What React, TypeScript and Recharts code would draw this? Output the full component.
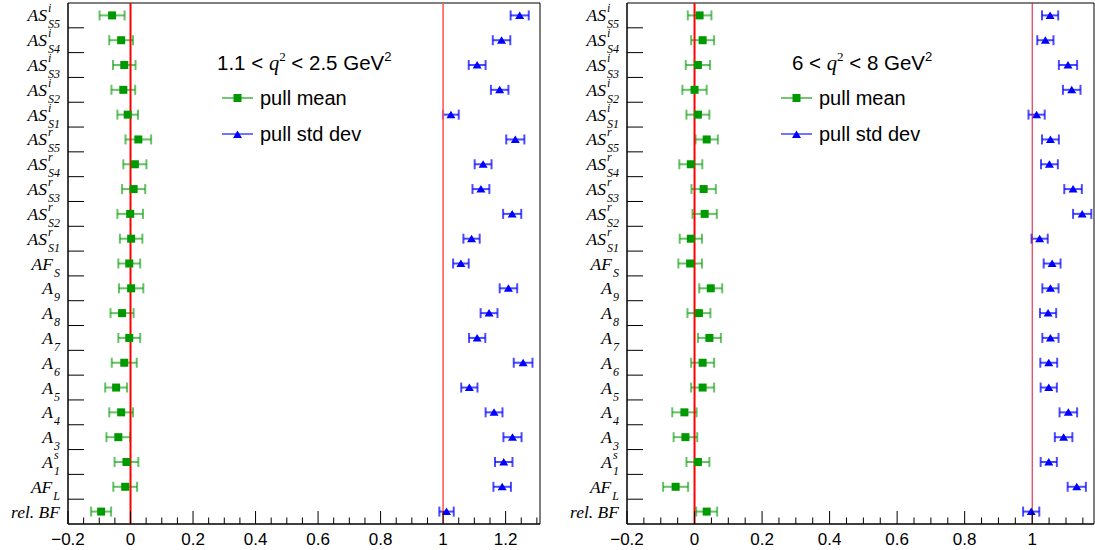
import {
  ScatterChart,
  Scatter,
  XAxis,
  YAxis,
  ErrorBar,
  ReferenceLine,
  ReferenceArea,
  Legend,
} from "recharts";

// row labels, top to bottom
const ROWS = [
  { main: "AS", sup: "i", sub: "S5" },
  { main: "AS", sup: "i", sub: "S4" },
  { main: "AS", sup: "i", sub: "S3" },
  { main: "AS", sup: "i", sub: "S2" },
  { main: "AS", sup: "i", sub: "S1" },
  { main: "AS", sup: "r", sub: "S5" },
  { main: "AS", sup: "r", sub: "S4" },
  { main: "AS", sup: "r", sub: "S3" },
  { main: "AS", sup: "r", sub: "S2" },
  { main: "AS", sup: "r", sub: "S1" },
  { main: "AF", sup: "", sub: "S" },
  { main: "A", sup: "", sub: "9" },
  { main: "A", sup: "", sub: "8" },
  { main: "A", sup: "", sub: "7" },
  { main: "A", sup: "", sub: "6" },
  { main: "A", sup: "", sub: "5" },
  { main: "A", sup: "", sub: "4" },
  { main: "A", sup: "", sub: "3" },
  { main: "A", sup: "s", sub: "1" },
  { main: "AF", sup: "", sub: "L" },
  { main: "rel. BF", sup: "", sub: "" },
];

// 1.1 < q2 < 2.5
const LOW_MEAN = [-0.059, -0.03, -0.02, -0.023, -0.009, 0.025, 0.014, 0.01, -0.001, 0.002, -0.004, 0.002, -0.027, -0.004, -0.02, -0.046, -0.03, -0.039, -0.013, -0.017, -0.094];
const LOW_MEAN_ERR = [0.04, 0.038, 0.036, 0.038, 0.033, 0.041, 0.037, 0.037, 0.041, 0.036, 0.035, 0.039, 0.037, 0.035, 0.04, 0.035, 0.038, 0.038, 0.038, 0.038, 0.032];
const LOW_STD = [1.245, 1.187, 1.109, 1.181, 1.025, 1.231, 1.128, 1.121, 1.221, 1.091, 1.057, 1.209, 1.147, 1.109, 1.256, 1.084, 1.163, 1.222, 1.194, 1.189, 1.011];
const LOW_STD_ERR = [0.029, 0.028, 0.027, 0.028, 0.025, 0.029, 0.027, 0.027, 0.029, 0.026, 0.025, 0.028, 0.027, 0.026, 0.03, 0.026, 0.027, 0.029, 0.028, 0.028, 0.023];

// 6 < q2 < 8
const HIGH_MEAN = [0.015, 0.024, 0.01, 0.0, 0.01, 0.036, -0.011, 0.027, 0.03, -0.011, -0.013, 0.048, 0.013, 0.044, 0.024, 0.024, -0.03, -0.027, 0.01, -0.056, 0.036];
const HIGH_MEAN_ERR = [0.035, 0.034, 0.036, 0.036, 0.034, 0.033, 0.034, 0.036, 0.036, 0.033, 0.035, 0.034, 0.034, 0.034, 0.034, 0.034, 0.036, 0.035, 0.034, 0.037, 0.031];
const HIGH_STD = [1.053, 1.039, 1.106, 1.117, 1.013, 1.054, 1.051, 1.121, 1.148, 1.022, 1.059, 1.054, 1.047, 1.054, 1.049, 1.049, 1.107, 1.093, 1.049, 1.132, 0.997];
const HIGH_STD_ERR = [0.024, 0.024, 0.027, 0.026, 0.024, 0.025, 0.025, 0.026, 0.027, 0.024, 0.025, 0.024, 0.024, 0.024, 0.025, 0.024, 0.026, 0.026, 0.024, 0.027, 0.024];

const X_LABELS = [-0.2, 0, 0.2, 0.4, 0.6, 0.8, 1, 1.2];
const ROW_TICKS = ROWS.map((_, i) => i + 0.5);

const H = 550;
const TOP = 3;
const XAXIS_H = 26;
const PLOT_H = H - TOP - XAXIS_H;
const ROW_H = PLOT_H / ROWS.length;

const C = {
  green: "#009900",
  blue: "#0000ff",
  red: "#ff0000",
};
const SANS = "'Liberation Sans', Arial, sans-serif";
const SERIF = "'Liberation Serif', 'Times New Roman', serif";

const supWidth: Record<string, number> = { i: 3.4, r: 4.7, s: 4.7 };

const rows = (vals: number[], errs: number[]) =>
  vals.map((v, i) => ({ row: i + 0.5, x: v, err: errs[i] }));

function minorTicks(max: number) {
  const out: number[] = [];
  for (let k = -4; k * 0.05 <= max + 1e-9; k++) out.push(Math.round(k * 5) / 100);
  return out;
}

function RowTick(props: any) {
  const { x, y, payload } = props;
  const idx = Math.round(payload.value - 0.5);
  const lab = ROWS[idx];
  return (
    <g>
      {idx > 0 && (
        <line x1={x} x2={x + 16} y1={y - ROW_H / 2} y2={y - ROW_H / 2} stroke="#000" strokeWidth={1} />
      )}
      <text x={x - 8} y={y + 6} textAnchor="end" fontFamily={SERIF} fontStyle="italic" fontSize={17.5} fill="#000">
        <tspan>{lab.main}</tspan>
        {lab.sup && (
          <tspan fontSize={12} dx={1} dy={-9}>
            {lab.sup}
          </tspan>
        )}
        {lab.sub && (
          <tspan fontSize={12} dx={lab.sup ? -supWidth[lab.sup] : 1} dy={lab.sup ? 16 : 7}>
            {lab.sub}
          </tspan>
        )}
      </text>
    </g>
  );
}

function XTick(props: any) {
  const { x, y, payload } = props;
  const v = payload.value as number;
  const major = X_LABELS.some((l) => Math.abs(l - v) < 1e-6);
  const txt = v < 0 ? "\u2212" + Math.abs(v) : String(v);
  return (
    <g>
      <line x1={x} x2={x} y1={y} y2={y - (major ? 13 : 6.5)} stroke="#000" strokeWidth={1} />
      {major && (
        <text x={x} y={y + 21} textAnchor="middle" fontFamily={SANS} fontSize={17} fill="#000">
          {txt}
        </text>
      )}
    </g>
  );
}

const squareShape = (p: any) => (
  <rect x={p.cx - 4} y={p.cy - 4} width={8} height={8} fill={C.green} />
);
const triangleShape = (p: any) => (
  <polygon
    points={`${p.cx - 4.5},${p.cy + 3.5} ${p.cx + 4.5},${p.cy + 3.5} ${p.cx},${p.cy - 4}`}
    fill={C.blue}
  />
);

function LegendBox({ lo, hi, titleDx }: { lo: string; hi: string; titleDx: number }) {
  const entry = (top: number, color: string, label: string, marker: "sq" | "tri") => (
    <div style={{ position: "absolute", left: 0, top, display: "flex", alignItems: "center", whiteSpace: "nowrap" }}>
      <svg width={31} height={12} style={{ display: "block" }}>
        <line x1={0} x2={31} y1={6} y2={6} stroke={color} strokeOpacity={0.55} strokeWidth={2} />
        {marker === "sq" ? (
          <rect x={11.5} y={2} width={8} height={8} fill={color} />
        ) : (
          <polygon points="11,10 20,10 15.5,2.5" fill={color} />
        )}
      </svg>
      <span style={{ marginLeft: 7, fontFamily: SANS, fontSize: 20, lineHeight: "24px", color: "#000" }}>{label}</span>
    </div>
  );
  return (
    <div style={{ position: "relative", width: 190, height: 110 }}>
      <div
        style={{
          position: "absolute",
          left: titleDx,
          top: 0,
          whiteSpace: "nowrap",
          fontFamily: SANS,
          fontSize: 20.5,
          lineHeight: "30px",
          color: "#000",
        }}
      >
        {lo} &lt;{" "}
        <span style={{ fontFamily: SERIF, fontStyle: "italic" }}>q</span>
        <sup style={{ fontFamily: SERIF, fontSize: 13, verticalAlign: 9, lineHeight: 0 }}>2</sup> &lt; {hi} GeV
        <sup style={{ fontSize: 13, verticalAlign: 9, lineHeight: 0 }}>2</sup>
      </div>
      {entry(38, C.green, "pull mean", "sq")}
      {entry(74, C.blue, "pull std dev", "tri")}
    </div>
  );
}

type PanelProps = {
  width: number;
  yWidth: number;
  right: number;
  xMax: number;
  mean: number[];
  meanErr: number[];
  std: number[];
  stdErr: number[];
  lo: string;
  hi: string;
  legendLeft: number;
  titleDx: number;
  oneLine: { stroke: string; width: number };
};

function Panel(p: PanelProps) {
  return (
    <ScatterChart
      width={p.width}
      height={H}
      margin={{ top: TOP, right: p.right, bottom: 0, left: 0 }}
    >
      <XAxis
        type="number"
        dataKey="x"
        domain={[-0.2, p.xMax]}
        allowDataOverflow
        ticks={minorTicks(p.xMax)}
        interval={0}
        height={XAXIS_H}
        tickSize={0}
        tickMargin={0}
        tickLine={false}
        tick={<XTick />}
        axisLine={{ stroke: "#000", strokeWidth: 1 }}
      />
      <YAxis
        type="number"
        dataKey="row"
        domain={[0, ROWS.length]}
        reversed
        allowDataOverflow
        ticks={ROW_TICKS}
        interval={0}
        width={p.yWidth}
        tickSize={0}
        tickMargin={0}
        tickLine={false}
        tick={<RowTick />}
        axisLine={{ stroke: "#000", strokeWidth: 1 }}
      />
      <ReferenceArea
        x1={-0.2}
        x2={p.xMax}
        y1={0}
        y2={ROWS.length}
        fill="none"
        fillOpacity={0}
        stroke="#000"
        strokeWidth={1}
      />
      <Legend
        layout="horizontal"
        verticalAlign="middle"
        align="center"
        wrapperStyle={{ position: "absolute", left: p.legendLeft, top: 48, width: 200 }}
        content={() => <LegendBox lo={p.lo} hi={p.hi} titleDx={p.titleDx} />}
      />
      <Scatter name="pull mean" data={rows(p.mean, p.meanErr)} shape={squareShape} isAnimationActive={false}>
        <ErrorBar dataKey="err" direction="x" width={5} stroke={C.green} strokeOpacity={0.6} strokeWidth={2} />
      </Scatter>
      <Scatter name="pull std dev" data={rows(p.std, p.stdErr)} shape={triangleShape} isAnimationActive={false}>
        <ErrorBar dataKey="err" direction="x" width={5} stroke={C.blue} strokeOpacity={0.7} strokeWidth={2} />
      </Scatter>
      <ReferenceLine x={0} stroke={C.red} strokeWidth={2} />
      <ReferenceLine x={1} stroke={p.oneLine.stroke} strokeWidth={p.oneLine.width} />
    </ScatterChart>
  );
}

export default function App() {
  return (
    <div style={{ position: "relative", width: 1095, height: H, background: "#fff" }}>
      <style>{"body{margin:0;}"}</style>
      <div style={{ position: "absolute", left: 0, top: 0 }}>
        <Panel
          width={548}
          yWidth={68}
          right={8}
          xMax={1.31}
          mean={LOW_MEAN}
          meanErr={LOW_MEAN_ERR}
          std={LOW_STD}
          stdErr={LOW_STD_ERR}
          lo="1.1"
          hi="2.5"
          legendLeft={222}
          titleDx={-5}
          oneLine={{ stroke: "#ff5a5a", width: 1.6 }}
        />
      </div>
      <div style={{ position: "absolute", left: 548, top: 0 }}>
        <Panel
          width={547}
          yWidth={79}
          right={1}
          xMax={1.183}
          mean={HIGH_MEAN}
          meanErr={HIGH_MEAN_ERR}
          std={HIGH_STD}
          stdErr={HIGH_STD_ERR}
          lo="6"
          hi="8"
          legendLeft={233}
          titleDx={11}
          oneLine={{ stroke: "#e01030", width: 1 }}
        />
      </div>
    </div>
  );
}
